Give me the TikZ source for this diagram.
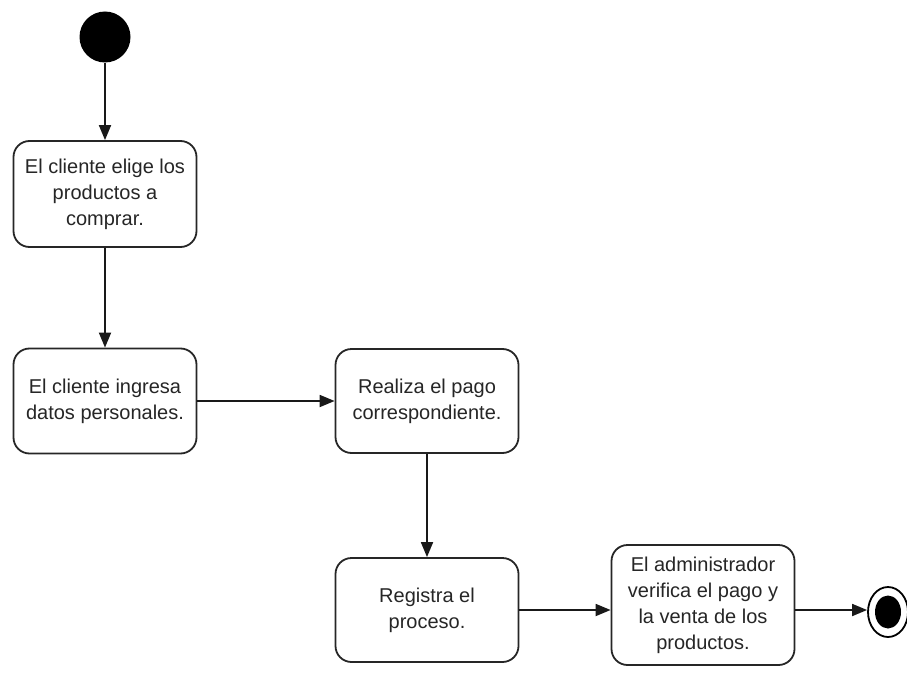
\documentclass[tikz,border=0pt]{standalone}
\usepackage{fontspec}
\setmainfont{Liberation Sans}
\usetikzlibrary{arrows.meta,shapes.geometric}
\begin{document}
\begin{tikzpicture}[x=1pt,y=-1pt,
  act/.style={draw=black!85,line width=1.8pt,rounded corners=16pt,fill=white,
    minimum width=183pt,align=center,text=black!85,
    font=\fontsize{20}{26}\selectfont,inner sep=0pt},
  flow/.style={draw=black!90,line width=1.8pt,-{Triangle[length=15pt,width=12pt]}}]
\useasboundingbox (0,0) rectangle (907,674);
\node[circle,fill=black,minimum size=51pt,inner sep=0pt] (start) at (105,37) {};
\node[act,minimum height=106pt] (b1) at (105,194) {El cliente elige los\\productos a\\comprar.};
\node[act,minimum height=105pt] (b2) at (105,401) {El cliente ingresa\\datos personales.};
\node[act,minimum height=104pt] (b3) at (427,401) {Realiza el pago\\correspondiente.};
\node[act,minimum height=104pt] (b4) at (427,610) {Registra el\\proceso.};
\node[act,minimum height=120pt] (b5) at (703,605) {El administrador\\verifica el pago y\\la venta de los\\productos.};
\node[ellipse,draw=black,line width=1.8pt,minimum width=40pt,minimum height=50pt,inner sep=0pt] (end) at (888,612) {};
\node[ellipse,fill=black,minimum width=26pt,minimum height=33pt,inner sep=0pt] (endin) at (888,612) {};
\draw[flow] (start) -- (b1);
\draw[flow] (b1) -- (b2);
\draw[flow] (b2) -- (b3);
\draw[flow] (b3) -- (b4);
\draw[flow] (b4.east) -- (b4.east -| b5.west);
\draw[flow] (b4.east -| b5.east) -- (end.west |- b4.east);
\end{tikzpicture}
\end{document}
